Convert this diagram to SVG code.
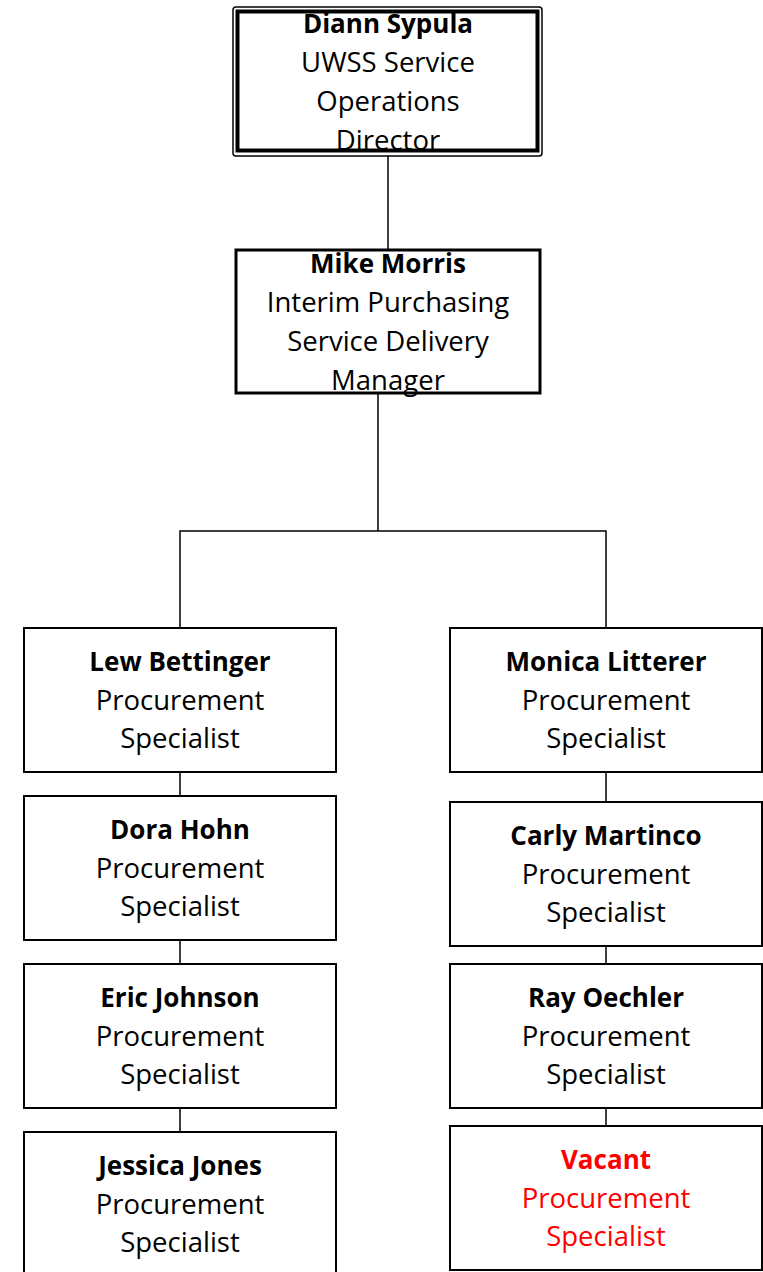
<svg xmlns="http://www.w3.org/2000/svg" width="763" height="1272" viewBox="0 0 763 1272">
<style>
.box{fill:#fff;stroke:#000;stroke-width:2}
.t{font-family:"Open Sans","Liberation Sans",sans-serif;font-size:27.5px;text-anchor:middle;fill:#000}
.b{font-weight:bold;font-size:26px}
.red{fill:#f00}
.c{fill:none;stroke:#000;stroke-width:1.5}
</style>
<rect width="763" height="1272" fill="#fff"/>
<g id="connectors">
<line class="c" x1="388" y1="156" x2="388" y2="250"/>
<polyline class="c" points="378,394 378,531"/>
<polyline class="c" points="180,628 180,531 606,531 606,628"/>
<line class="c" x1="180" y1="772" x2="180" y2="796"/>
<line class="c" x1="180" y1="940" x2="180" y2="964"/>
<line class="c" x1="180" y1="1108" x2="180" y2="1132"/>
<line class="c" x1="606" y1="772" x2="606" y2="802"/>
<line class="c" x1="606" y1="946" x2="606" y2="964"/>
<line class="c" x1="606" y1="1108" x2="606" y2="1126"/>
</g>
<g id="diann">
<rect x="233" y="7" width="309" height="149" rx="3" fill="#fff" stroke="#000" stroke-width="1.5"/>
<rect x="237.5" y="11.5" width="300" height="139" fill="none" stroke="#000" stroke-width="4"/>
<text class="t b" x="388" y="33">Diann Sypula</text>
<text class="t" x="388" y="72">UWSS Service</text>
<text class="t" x="388" y="111">Operations</text>
<text class="t" x="388" y="150">Director</text>
</g>
<g id="mike">
<rect x="236" y="250" width="304" height="143" fill="#fff" stroke="#000" stroke-width="3"/>
<text class="t b" x="388" y="273">Mike Morris</text>
<text class="t" x="388" y="312">Interim Purchasing</text>
<text class="t" x="388" y="351">Service Delivery</text>
<text class="t" x="388" y="390">Manager</text>
</g>
<g id="lew">
<rect class="box" x="24" y="628" width="312" height="144"/>
<text class="t b" x="180" y="671">Lew Bettinger</text>
<text class="t" x="180" y="710">Procurement</text>
<text class="t" x="180" y="748">Specialist</text>
</g>
<g id="dora">
<rect class="box" x="24" y="796" width="312" height="144"/>
<text class="t b" x="180" y="839">Dora Hohn</text>
<text class="t" x="180" y="878">Procurement</text>
<text class="t" x="180" y="916">Specialist</text>
</g>
<g id="eric">
<rect class="box" x="24" y="964" width="312" height="144"/>
<text class="t b" x="180" y="1007">Eric Johnson</text>
<text class="t" x="180" y="1046">Procurement</text>
<text class="t" x="180" y="1084">Specialist</text>
</g>
<g id="jessica">
<rect class="box" x="24" y="1132" width="312" height="144"/>
<text class="t b" x="180" y="1175">Jessica Jones</text>
<text class="t" x="180" y="1214">Procurement</text>
<text class="t" x="180" y="1252">Specialist</text>
</g>
<g id="monica">
<rect class="box" x="450" y="628" width="312" height="144"/>
<text class="t b" x="606" y="671">Monica Litterer</text>
<text class="t" x="606" y="710">Procurement</text>
<text class="t" x="606" y="748">Specialist</text>
</g>
<g id="carly">
<rect class="box" x="450" y="802" width="312" height="144"/>
<text class="t b" x="606" y="845">Carly Martinco</text>
<text class="t" x="606" y="884">Procurement</text>
<text class="t" x="606" y="922">Specialist</text>
</g>
<g id="ray">
<rect class="box" x="450" y="964" width="312" height="144"/>
<text class="t b" x="606" y="1007">Ray Oechler</text>
<text class="t" x="606" y="1046">Procurement</text>
<text class="t" x="606" y="1084">Specialist</text>
</g>
<g id="vacant">
<rect class="box" x="450" y="1126" width="312" height="144"/>
<text class="t b red" x="606" y="1169">Vacant</text>
<text class="t red" x="606" y="1208">Procurement</text>
<text class="t red" x="606" y="1246">Specialist</text>
</g>
</svg>
